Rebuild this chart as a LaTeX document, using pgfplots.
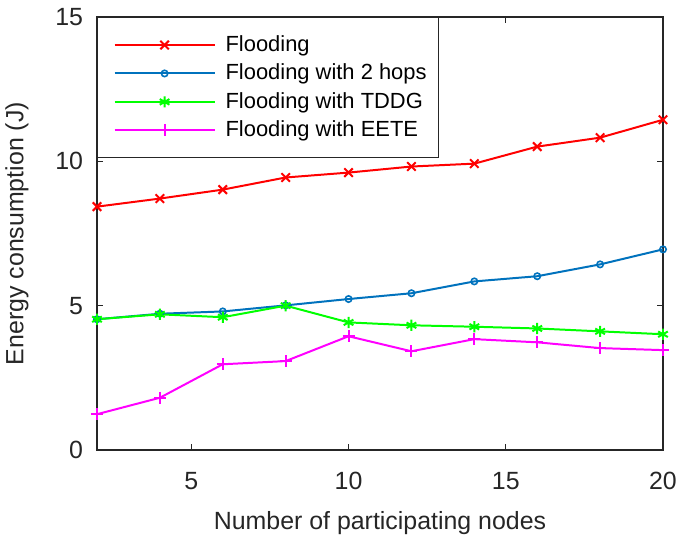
\documentclass[border=0pt]{standalone}
\usepackage{fontspec}
\setmainfont{Liberation Sans}
\usepackage{pgfplots}
\pgfplotsset{compat=1.18}
\definecolor{mred}{RGB}{255,0,0}
\definecolor{mblue}{RGB}{0,114,189}
\definecolor{mgreen}{RGB}{0,255,0}
\definecolor{mmag}{RGB}{255,0,255}
\definecolor{axgray}{RGB}{38,38,38}
\begin{document}
\begin{tikzpicture}
\begin{axis}[
  name=ax,
  scale only axis,
  width=283bp, height=216.5bp,
  xmin=2, xmax=20, ymin=0, ymax=15,
  xtick={5,10,15,20}, ytick={0,5,10,15},
  tick align=inside,
  major tick length=3bp,
  axis line style={axgray, line width=0.6pt},
  every tick/.style={axgray, line width=0.6pt},
  tick label style={font=\fontsize{12.5}{15}\selectfont, text=axgray},
  /pgf/number format/assume math mode=true,
  xticklabel style={yshift=-7.5bp},
  yticklabel style={xshift=-3.5bp},
  xlabel={Number of participating nodes},
  ylabel={Energy consumption (J)},
  label style={font=\fontsize{12.5}{15}\selectfont, text=axgray},
  xlabel style={yshift=-4bp},
  ylabel style={yshift=6.5bp},
  legend cell align=left,
  legend style={at={(0,1)}, anchor=north west, draw=axgray, line width=0.6pt,
    font=\fontsize{11}{13}\selectfont, inner xsep=4bp, inner ysep=7bp,
    row sep=0.8bp, column sep=3bp, fill=white},
  legend image code/.code={\draw[mark repeat=2,mark phase=2] plot coordinates {(4bp,0bp)(29bp,0bp)(54bp,0bp)};\path (0bp,0bp);},
]
\addplot[mred, line width=1pt, mark=x, mark size=3bp, mark options={line width=1pt}] coordinates {
(2,8.43)(4,8.71)(6,9.02)(8,9.44)(10,9.61)(12,9.82)(14,9.92)(16,10.51)(18,10.82)(20,11.44)};
\addlegendentry{Flooding}
\addplot[mblue, line width=1pt, mark=o, mark size=1.6bp, mark options={line width=0.8pt}] coordinates {
(2,4.53)(4,4.72)(6,4.80)(8,5.01)(10,5.23)(12,5.43)(14,5.84)(16,6.02)(18,6.43)(20,6.95)};
\addlegendentry{Flooding with 2 hops}
\addplot[mgreen, line width=1pt, mark=asterisk, mark size=2.8bp, mark options={line width=1pt}] coordinates {
(2,4.53)(4,4.70)(6,4.60)(8,5.00)(10,4.42)(12,4.32)(14,4.27)(16,4.21)(18,4.11)(20,4.01)};
\addlegendentry{Flooding with TDDG}
\addplot[mmag, line width=1pt, mark=+, mark size=3bp, mark options={line width=1pt}] coordinates {
(2,1.24)(4,1.81)(6,2.97)(8,3.08)(10,3.94)(12,3.42)(14,3.84)(16,3.73)(18,3.53)(20,3.46)};
\addlegendentry{Flooding with EETE}
\end{axis}
\pgfresetboundingbox
\path ([xshift=-48.5bp,yshift=-45bp]ax.south west) rectangle ([xshift=7.5bp,yshift=8.5bp]ax.north east);
\end{tikzpicture}
\end{document}
